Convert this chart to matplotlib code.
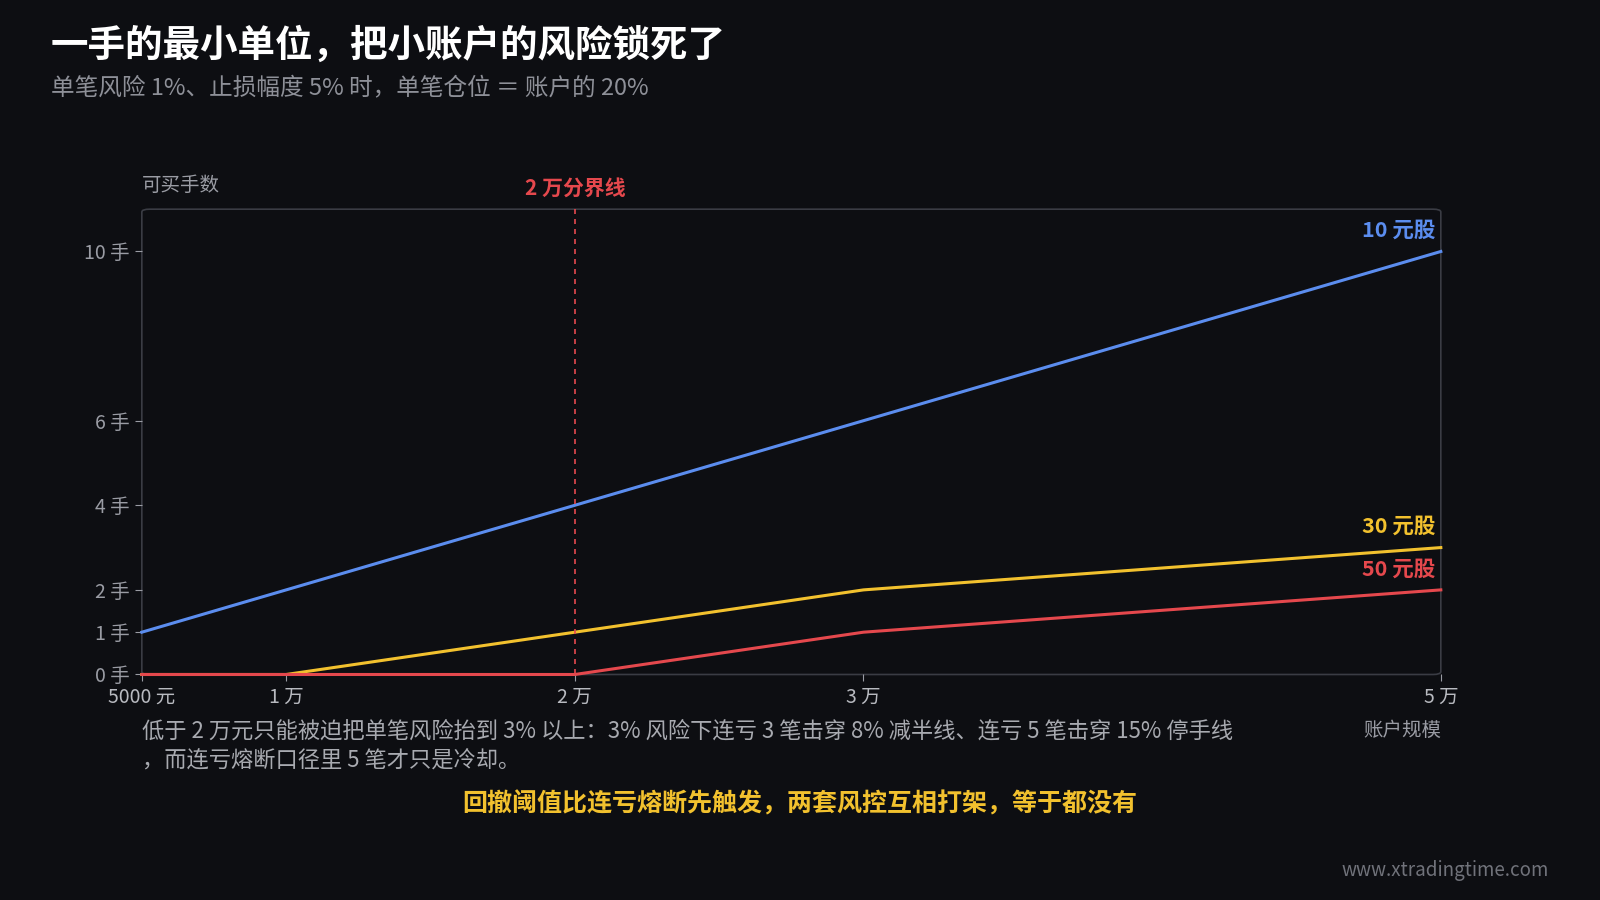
import matplotlib
matplotlib.use("Agg")
import matplotlib.pyplot as plt
from matplotlib.patches import FancyBboxPatch

plt.rcParams['font.family'] = ['Noto Sans CJK SC', 'DejaVu Sans']

capital = [5000, 10000, 20000, 30000, 50000]
lots_10 = [1, 2, 4, 6, 10]
lots_30 = [0, 0, 1, 2, 3]
lots_50 = [0, 0, 0, 1, 2]
xticks = [5000, 10000, 20000, 30000, 50000]
xticklabels = ["5000 元", "1 万", "2 万", "3 万", "5 万"]
yticks = [0, 1, 2, 4, 6, 10]
yticklabels = ["0 手", "1 手", "2 手", "4 手", "6 手", "10 手"]

BG = "#0d0e12"
BLUE, YEL, RED = "#5b8def", "#f2c12e", "#e5484d"
W, H = 1568, 882

fig = plt.figure(figsize=(16, 9), dpi=100, facecolor=BG)
ax = fig.add_axes([139/W, 1-661/H, (1412-139)/W, (661-205)/H])
ax.set_facecolor(BG)
ax.set_xlim(5000, 50000)
ax.set_ylim(0, 11)
for s in ax.spines.values():
    s.set_visible(False)
box = FancyBboxPatch((0, 0), 1, 1, boxstyle="round,pad=0,rounding_size=0.006",
                     transform=ax.transAxes, fill=False, ec="#3a3c44", lw=1.2, clip_on=False)
ax.add_patch(box)

ax.plot(capital, lots_10, color=BLUE, lw=2.2, clip_on=False)
ax.plot(capital, lots_30, color=YEL, lw=2.2, clip_on=False)
ax.plot(capital, lots_50, color=RED, lw=2.2, clip_on=False)
ax.axvline(20000, color=RED, lw=1.2, ls=(0, (3, 3)))
ax.text(20000, 11.25, "2 万分界线", color=RED, ha="center", va="bottom", fontsize=15, fontweight="bold")

ax.text(49800, 10.5, "10 元股", color=BLUE, ha="right", va="center", fontsize=15.5, fontweight="bold")
ax.text(49800, 3.5, "30 元股", color=YEL, ha="right", va="center", fontsize=15.5, fontweight="bold")
ax.text(49800, 2.5, "50 元股", color=RED, ha="right", va="center", fontsize=15.5, fontweight="bold")

ax.set_xticks(xticks)
ax.set_xticklabels(xticklabels)
ax.set_yticks(yticks)
ax.set_yticklabels(yticklabels)
ax.tick_params(colors="#9a9ca4", labelsize=14, length=5, color="#9a9ca4", pad=4)
ax.tick_params(axis="x", labelcolor="#b8bac0")

fig.text(139/W, 1-182/H, "可买手数", color="#9a9ca4", fontsize=14, va="center")
fig.text(1412/W, 1-716/H, "账户规模", color="#9a9ca4", fontsize=14, va="center", ha="right")
fig.text(50/W, 1-44/H, "一手的最小单位，把小账户的风险锁死了", color="white", fontsize=27, fontweight="bold", va="center")
fig.text(50/W, 1-87/H, "单笔风险 1%、止损幅度 5% 时，单笔仓位 ＝ 账户的 20%", color="#8e9098", fontsize=17, va="center")
fig.text(139/W, 1-716/H, "低于 2 万元只能被迫把单笔风险抬到 3% 以上：3% 风险下连亏 3 笔击穿 8% 减半线、连亏 5 笔击穿 15% 停手线",
         color="#a8aab0", fontsize=16, va="center")
fig.text(139/W, 1-746/H, "，而连亏熔断口径里 5 笔才只是冷却。", color="#a8aab0", fontsize=16, va="center")
fig.text(784/W, 1-788/H, "回撤阈值比连亏熔断先触发，两套风控互相打架，等于都没有", color=YEL, fontsize=18,
         fontweight="bold", va="center", ha="center")
fig.text(1518/W, 1-853/H, "www.xtradingtime.com", color="#70727a", fontsize=13.5, va="center", ha="right")

fig.savefig("out.png", facecolor=BG)
